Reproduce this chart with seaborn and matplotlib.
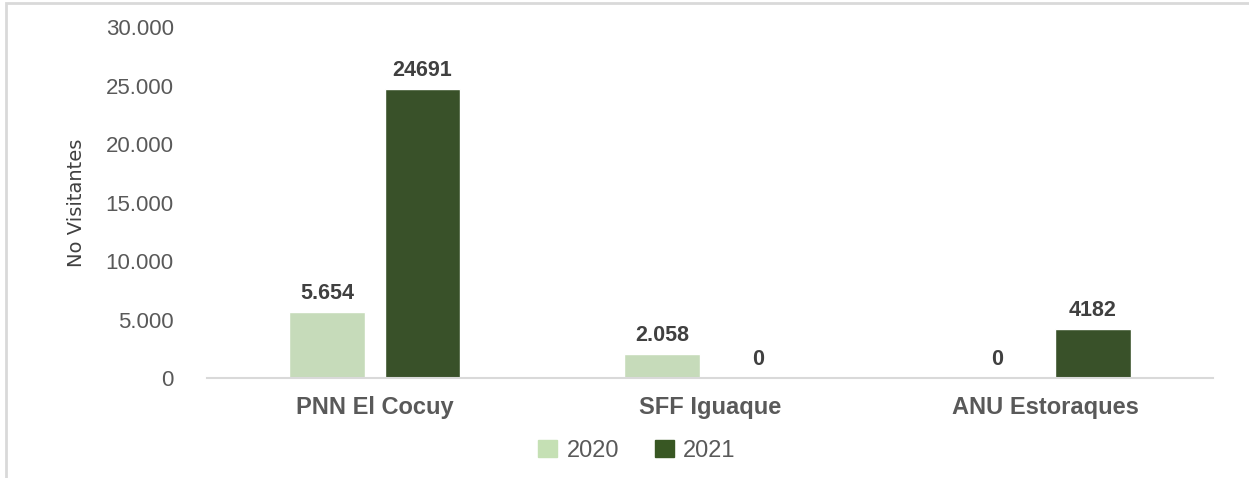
import pandas as pd
import matplotlib.pyplot as plt
import matplotlib.patches as mpatches
import seaborn as sns
from matplotlib.ticker import FuncFormatter

# Visitors per protected area
areas = ['PNN El Cocuy', 'SFF Iguaque', 'ANU Estoraques']
visitors_2020 = [5654, 2058, 0]
visitors_2021 = [24691, 0, 4182]
labels_2020 = ['5.654', '2.058', '0']
labels_2021 = ['24691', '0', '4182']
years = ['2020', '2021']

df = pd.DataFrame({
    'area': areas * 2,
    'year': [years[0]] * 3 + [years[1]] * 3,
    'visitors': visitors_2020 + visitors_2021,
})

sns.set_theme(style='white')
plt.rcParams['font.family'] = ['Liberation Sans', 'DejaVu Sans']

fig = plt.figure(figsize=(12.49, 4.78), dpi=100)
ax = fig.add_axes([0.1657, 0.2092, 0.8053, 0.7343])

# Light frame round the chart area
fig.patches.append(mpatches.Rectangle((0.005, -0.05), 1.2, 1.044, transform=fig.transFigure,
                                      fill=False, edgecolor='#D9D9D9', linewidth=2))

sns.barplot(data=df, x='area', y='visitors', hue='year',
            palette=['#C5E0B4', '#385723'], width=0.57, gap=0.21,
            ax=ax, legend=True)

ax.set_ylim(0, 30000)
ax.set_xlim(-0.5, 2.5)
ax.set_yticks(range(0, 30001, 5000))
ax.yaxis.set_major_formatter(FuncFormatter(lambda v, p: f'{int(v):,}'.replace(',', '.')))
ax.tick_params(axis='y', labelsize=16, labelcolor='#595959', length=0, pad=24)
ax.tick_params(axis='x', labelsize=17, labelcolor='#595959', length=0, pad=13)
for t in ax.get_xticklabels():
    t.set_fontweight('bold')

ax.set_xlabel('')
ax.set_ylabel('No Visitantes', fontsize=14, color='#404040',
              family=['Liberation Sans Narrow', 'DejaVu Sans'], labelpad=14)

for s in ['top', 'right', 'left']:
    ax.spines[s].set_visible(False)
ax.spines['bottom'].set_color('#D9D9D9')
ax.spines['bottom'].set_linewidth(1.5)

# Data labels
for cont, labs in zip(ax.containers, [labels_2020, labels_2021]):
    ax.bar_label(cont, labels=labs, padding=6, fontsize=15.5, fontweight='bold', color='#404040')

ax.get_legend().remove()
handles = [mpatches.Patch(color=c) for c in ['#C5E0B4', '#385723']]
leg = fig.legend(handles, years, loc='center', bbox_to_anchor=(0.51, 0.057), ncol=2, frameon=False,
                 fontsize=17, handlelength=0.8, handleheight=0.7, columnspacing=1.5,
                 handletextpad=0.4)
for t in leg.get_texts():
    t.set_color('#595959')

fig.savefig('out.png', dpi=100)
